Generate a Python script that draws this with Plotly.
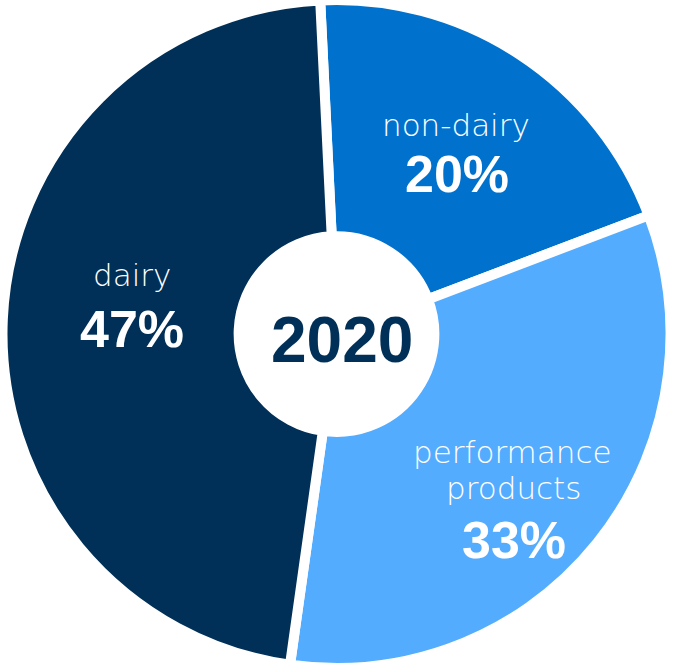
import plotly.graph_objects as go

# Revenue share by segment
year = "2020"
segments = ["non-dairy", "performance products", "dairy"]
shares = [20, 33, 47]

segment_colors = ["#0072CE", "#54ACFF", "#003057"]
navy = "#003057"

W, H = 673, 668

fig = go.Figure(
    go.Pie(
        labels=segments,
        values=shares,
        sort=False,
        direction="clockwise",
        rotation=-2.8,
        hole=0.293,
        marker=dict(colors=segment_colors, line=dict(color="white", width=10)),
        textinfo="none",
        hoverinfo="label+percent",
        showlegend=False,
    )
)

# label placement (pixel centres of each text line) per segment
label_lines_at = {
    "non-dairy": [(456, 124.6)],
    "performance products": [(512.5, 451.6), (513.5, 487.6)],
    "dairy": [(131.5, 274.6)],
}
percent_at = {
    "non-dairy": (456.5, 174),
    "performance products": (513.5, 540),
    "dairy": (131.5, 329),
}

name_font = dict(family="DejaVu Sans", size=31, color="white", weight=200)
pct_font = dict(family="Liberation Sans, Arial", size=52, color="white", weight="bold")


def add_text(text, px, py, font):
    fig.add_annotation(
        text=text,
        x=px / W,
        y=1 - py / H,
        xref="paper",
        yref="paper",
        xanchor="center",
        yanchor="middle",
        showarrow=False,
        font=font,
    )


for name, value in zip(segments, shares):
    for word, (px, py) in zip(name.split(" "), label_lines_at[name]):
        add_text(word, px, py, name_font)
    px, py = percent_at[name]
    add_text(f"{value}%", px, py, pct_font)

add_text(year, 342, 339.5, dict(family="Liberation Sans, Arial", size=64, color=navy, weight="bold"))

fig.update_layout(
    width=W,
    height=H,
    margin=dict(l=0, r=0, t=0, b=0),
    paper_bgcolor="white",
    plot_bgcolor="white",
)

fig.write_html("out.html")
